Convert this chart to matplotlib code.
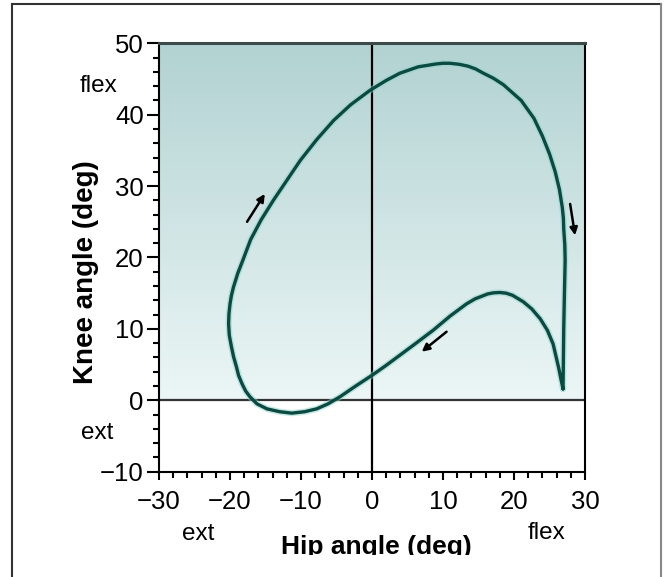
import numpy as np
import matplotlib
matplotlib.use("Agg")
import matplotlib.pyplot as plt
from matplotlib.lines import Line2D
from matplotlib.patches import Rectangle

plt.rcParams['font.family'] = ['Liberation Sans', 'DejaVu Sans']

# hip / knee angle loop (deg), in walking order
hip = [26.9, 26.6, 26.3, 25.9, 25.5, 24.7, 23.7, 22.5, 21.3, 19.8, 18.9, 18.0,
       17.1, 16.3, 14.5, 13.3, 11.0, 8.6, 6.2, 3.9, 2.0, 0.0, -2.3, -4.5,
       -6.2, -7.8, -9.5, -11.3, -13.0, -14.8, -16.2, -17.2, -17.8, -18.3,
       -18.8, -19.1, -19.5, -19.8, -20.1, -20.2, -20.15, -20.0, -19.8, -19.5,
       -18.9, -18.2, -17.1, -15.6, -13.9, -12.0, -10.1, -7.8, -5.4, -3.0,
       -0.3, 2.0, 3.9, 6.5, 9.0, 10.0, 11.0, 12.3, 13.5, 14.6, 15.7, 17.1,
       18.5, 21.0, 22.8, 24.0, 25.0, 25.8, 26.4, 26.8, 26.95, 27.0, 27.15,
       27.2, 27.15, 27.1, 27.0, 26.95, 26.9]
knee = [1.6, 3.0, 4.5, 6.2, 7.9, 9.8, 11.4, 12.8, 13.8, 14.7, 15.0, 15.1,
        15.05, 14.9, 14.2, 13.5, 11.8, 9.8, 8.0, 6.3, 4.9, 3.5, 2.0, 0.5,
        -0.5, -1.2, -1.6, -1.8, -1.6, -1.2, -0.5, 0.5, 1.3, 2.3,
        3.5, 4.7, 6.1, 7.5, 9.1, 10.7, 12.1, 13.5, 14.7, 15.9,
        17.8, 19.6, 22.5, 25.3, 28.0, 30.8, 33.6, 36.5, 39.2, 41.4,
        43.4, 44.8, 45.8, 46.7, 47.1, 47.2, 47.2, 47.05, 46.8, 46.4, 45.8, 45.1,
        44.2, 42.0, 39.5, 37.0, 34.5, 32.0, 29.5, 27.0, 25.5, 24.0, 21.8,
        19.6, 17.3, 15.0, 10.0, 5.6, 1.6]

# direction arrows: (start, end) in data units
arrow_start = [(-17.6, 25.0), (27.9, 27.5), (10.5, 9.6)]
arrow_end = [(-15.1, 28.9), (28.6, 23.1), (7.0, 6.8)]

xticks = [-30, -20, -10, 0, 10, 20, 30]
yticks = [-10, 0, 10, 20, 30, 40, 50]

fig = plt.figure(figsize=(6.67, 5.77), dpi=100)
ax = fig.add_axes([0.2384, 0.1825, 0.6387, 0.7425])

# shaded background above knee = 0
top = np.array([178, 210, 210]) / 255
bot = np.array([236, 246, 246]) / 255
t = np.linspace(0, 1, 200)[:, None, None]
grad = top * (1 - t) + bot * t
ax.imshow(grad, extent=[-30, 30, 0, 50], aspect='auto', zorder=0,
          interpolation='bilinear')

ax.axhline(0, color='#333333', lw=1.6, zorder=2)
ax.axvline(0, color='black', lw=1.6, zorder=2)

ax.plot(hip, knee, color='#8fd3cb', lw=4.5, alpha=0.5, zorder=3,
        solid_joinstyle='round', solid_capstyle='round')
ax.plot(hip, knee, color='#0b4a41', lw=2.4, zorder=4,
        solid_joinstyle='round', solid_capstyle='round')

for s, e in zip(arrow_start, arrow_end):
    ax.annotate('', xy=e, xytext=s,
                arrowprops=dict(arrowstyle='-|>', color='black', lw=1.8,
                                mutation_scale=11, shrinkA=0, shrinkB=0),
                zorder=5)

ax.set_xlim(-30, 30)
ax.set_ylim(-10, 50)
ax.set_xticks(xticks)
ax.set_yticks(yticks)
ax.set_xticks(np.arange(-30, 31, 2), minor=True)
ax.set_yticks(np.arange(-10, 51, 2), minor=True)
ax.tick_params(axis='both', which='major', direction='out', width=1.5,
               labelsize=18.5, colors='black')
ax.tick_params(axis='y', which='major', length=9, pad=2)
ax.tick_params(axis='x', which='major', length=6, pad=7)
ax.tick_params(axis='both', which='minor', direction='out', length=4, width=1.5)

for side in ['left', 'right', 'bottom']:
    ax.spines[side].set_linewidth(1.5)
    ax.spines[side].set_color('black')
ax.spines['top'].set_linewidth(2.2)
ax.spines['top'].set_color('#3c4a4a')

ax.set_ylabel('Knee angle (deg)', fontsize=20, fontweight='bold')
ax.set_xlabel('Hip angle (deg)', fontsize=19, fontweight='bold')
ax.xaxis.set_label_coords(0.51, -0.148)
ax.yaxis.set_label_coords(-0.14, 0.466)

# ext / flex side labels
ax.text(-0.143, 44, 'flex', transform=ax.get_yaxis_transform(),
        fontsize=17.5, ha='center', va='center')
ax.text(-0.145, -4.6, 'ext', transform=ax.get_yaxis_transform(),
        fontsize=17.5, ha='center', va='center')
ax.text(-24.5, -0.145, 'ext', transform=ax.get_xaxis_transform(),
        fontsize=17.5, ha='center', va='center')
ax.text(24.6, -0.143, 'flex', transform=ax.get_xaxis_transform(),
        fontsize=17.5, ha='center', va='center')

# picture frame, with the figure clipped a bit above the bottom
fig.patches.append(Rectangle((13 / 667, 0), 647 / 667, 22 / 577,
                             transform=fig.transFigure, facecolor='white',
                             edgecolor='none', zorder=10))
fig.lines.append(Line2D([12 / 667, 12 / 667], [0, 1 - 4 / 577],
                        transform=fig.transFigure, color='#333333', lw=1.5, zorder=11))
fig.lines.append(Line2D([12 / 667, 661 / 667], [1 - 4 / 577, 1 - 4 / 577],
                        transform=fig.transFigure, color='#333333', lw=1.5, zorder=11))
fig.lines.append(Line2D([661 / 667, 661 / 667], [0, 1 - 4 / 577],
                        transform=fig.transFigure, color='#888888', lw=1.5, zorder=11))

fig.savefig('out.png', dpi=100)
